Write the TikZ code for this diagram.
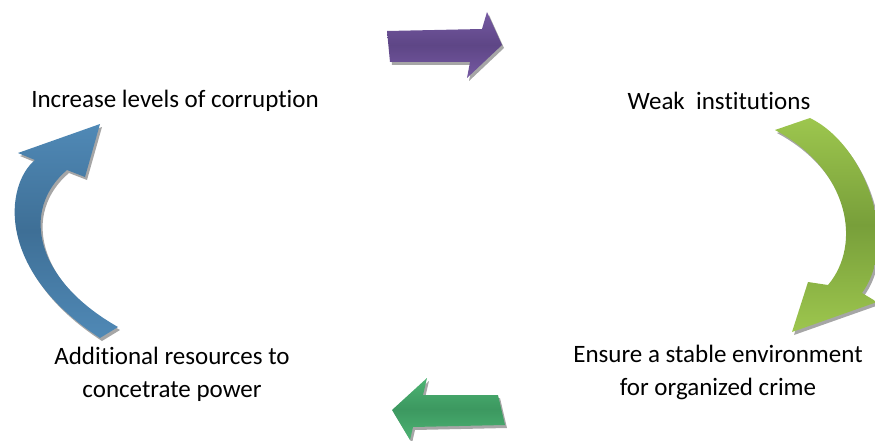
\documentclass[tikz,border=0pt]{standalone}
\usepackage{fontspec}
\setmainfont{Carlito}[Ligatures=NoCommon]
\usetikzlibrary{shadows}

\definecolor{purpleA}{HTML}{7559A2}
\definecolor{purpleB}{HTML}{5E4686}
\definecolor{limeA}{HTML}{9DC64E}
\definecolor{limeB}{HTML}{789F3A}
\definecolor{greenA}{HTML}{4DB373}
\definecolor{greenB}{HTML}{3C9860}
\definecolor{blueA}{HTML}{5089B6}
\definecolor{blueB}{HTML}{3E6F96}

\tikzset{
  arrowshape/.style={draw=none,
    drop shadow={shadow xshift=2pt, shadow yshift=-3pt, fill=black!35, opacity=1}},
  label/.style={font=\fontsize{25}{33}\selectfont, align=center, inner sep=0pt}
}

\begin{document}
\begin{tikzpicture}[x=1pt, y=-1pt]
  \useasboundingbox (0,0) rectangle (875,441);

  % the four stages
  \node[label] (corruption) at (175,101) {Increase levels of corruption};
  \node[label] (weak) at (719,101) {Weak\ \ institutions};
  \node[label] (crime) at (718,372) {Ensure a stable environment\\for organized crime};
  \node[label] (resources) at (172,374) {Additional resources to\\concetrate power};

  % top: straight arrow to the right
  \path[arrowshape, top color=purpleA, bottom color=purpleA, middle color=purpleB]
    (387,31) -- (482,29) -- (487,12) -- (502,45) -- (467,78) -- (470,62) -- (390,62) -- cycle;

  % right: bent arrow going down
  \path[arrowshape, top color=limeA, bottom color=limeA, middle color=limeB]
    (810,118) .. controls (865,145) and (900,240) .. (862,293)
    -- (877,302) -- (792,332) -- (808,282) -- (828,285)
    .. controls (862,245) and (850,170) .. (775,130) -- cycle;

  % bottom: straight arrow to the left
  \path[arrowshape, top color=greenA, bottom color=greenA, middle color=greenB]
    (392,410) -- (427,378) -- (423,395) -- (498,395) -- (505,425) -- (413,427) -- (410,440) -- cycle;

  % left: bent arrow going up
  \path[arrowshape, top color=blueA, bottom color=blueA, middle color=blueB]
    (100,124) -- (85,177) -- (67,170)
    .. controls (20,210) and (35,280) .. (118,327)
    -- (100,338)
    .. controls (-5,270) and (5,185) .. (35,160)
    -- (18,153) -- cycle;
\end{tikzpicture}
\end{document}
